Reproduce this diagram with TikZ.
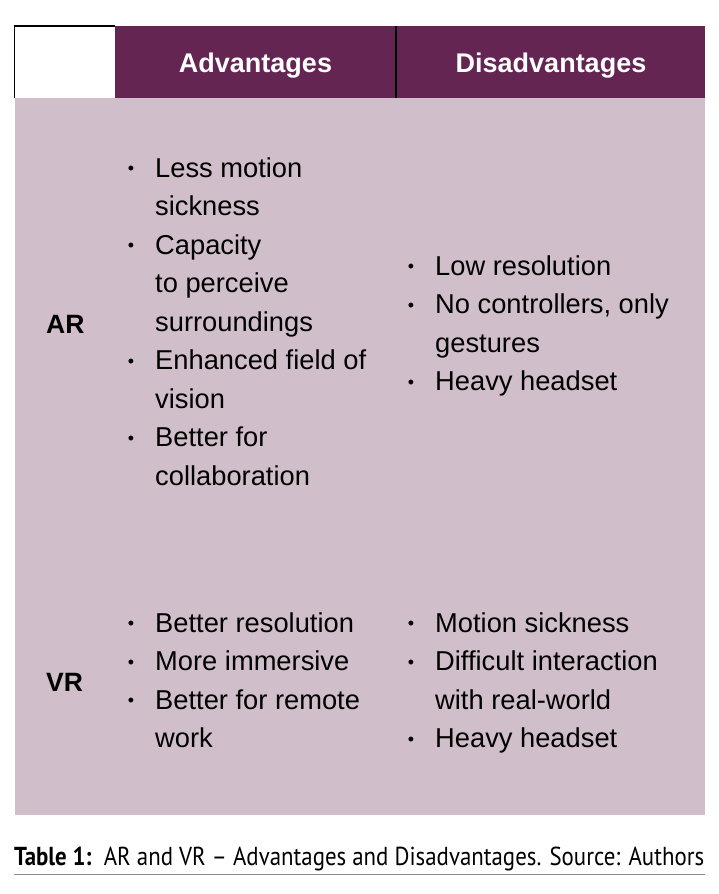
\documentclass[tikz,border=0pt]{standalone}
\usepackage{fontspec}
\setmainfont{Liberation Sans}
\newfontfamily\capfont{PT Sans}
\definecolor{hdrpurple}{HTML}{642552}
\definecolor{bodylilac}{HTML}{D0BFCA}
\definecolor{capline}{HTML}{8A8A8A}
\newcommand{\smallbul}{\raisebox{2.5pt}{\fontsize{18}{20}\selectfont •}}
\begin{document}
\begin{tikzpicture}[x=1pt,y=-1pt,
  celltext/.style={inner sep=0pt, anchor=base west, font=\fontsize{27.3}{38.5}\selectfont},
  bul/.style={inner sep=0pt, anchor=base, font=\fontsize{27.3}{38.5}\selectfont},
  hdrtext/.style={inner sep=0pt, anchor=base, text=white, font=\fontsize{27}{32}\selectfont\bfseries},
  rowlab/.style={inner sep=0pt, anchor=base west, font=\fontsize{26.5}{32}\selectfont\bfseries},
  rule/.style={line width=1.6pt, black}]
\useasboundingbox (0,0) rectangle (718,894);
% fills
\fill[bodylilac] (15,98) rectangle (705,815);
\fill[hdrpurple] (115,26) rectangle (705,98);
% borders
\draw[rule] (14.5,98) -- (14.5,26) -- (115,26);
\draw[rule] (396,26) -- (396,98);
% headers
\node[hdrtext] (hA) at (255.5,72) {Advantages};
\node[hdrtext] (hD) at (551,72) {Disadvantages};
% row labels
\node[rowlab] (AR) at (46,333) {AR};
\node[rowlab] (VR) at (46,691) {VR};
% AR advantages
\node[bul] (b1) at (131,177) {\smallbul};
\node[celltext] (a1) at (155,177) {Less motion};
\node[celltext] (a2) at (155,215.5) {sickness};
\node[bul] (b2) at (131,254) {\smallbul};
\node[celltext] (a3) at (155,254) {Capacity};
\node[celltext] (a4) at (155,292.5) {to perceive};
\node[celltext] (a5) at (155,331) {surroundings};
\node[bul] (b3) at (131,369.5) {\smallbul};
\node[celltext] (a6) at (155,369.5) {Enhanced field of};
\node[celltext] (a7) at (155,408) {vision};
\node[bul] (b4) at (131,446.5) {\smallbul};
\node[celltext] (a8) at (155,446.5) {Better for};
\node[celltext] (a9) at (155,485) {collaboration};
% AR disadvantages
\node[bul] (c1) at (411,275) {\smallbul};
\node[celltext] (d1) at (435,275) {Low resolution};
\node[bul] (c2) at (411,313.5) {\smallbul};
\node[celltext] (d2) at (435,313.5) {No controllers, only};
\node[celltext] (d3) at (435,352) {gestures};
\node[bul] (c3) at (411,390.5) {\smallbul};
\node[celltext] (d4) at (435,390.5) {Heavy headset};
% VR advantages
\node[bul] (e1) at (131,632) {\smallbul};
\node[celltext] (v1) at (155,632) {Better resolution};
\node[bul] (e2) at (131,670.5) {\smallbul};
\node[celltext] (v2) at (155,670.5) {More immersive};
\node[bul] (e3) at (131,709) {\smallbul};
\node[celltext] (v3) at (155,709) {Better for remote};
\node[celltext] (v4) at (155,747.5) {work};
% VR disadvantages
\node[bul] (f1) at (411,632) {\smallbul};
\node[celltext] (w1) at (435,632) {Motion sickness};
\node[bul] (f2) at (411,670.5) {\smallbul};
\node[celltext] (w2) at (435,670.5) {Difficult interaction};
\node[celltext] (w3) at (435,709) {with real-world};
\node[bul] (f3) at (411,747.5) {\smallbul};
\node[celltext] (w4) at (435,747.5) {Heavy headset};
% caption
\node[inner sep=0pt, anchor=base west] (cap) at (14,865)
  {\resizebox{690pt}{18.5pt}{\capfont\fontsize{20}{24}\selectfont\textbf{Table 1:}\ \ AR and VR – Advantages and Disadvantages. Source: Authors}};
\draw[capline, line width=1pt] (14,874) -- (705,874);
\end{tikzpicture}
\end{document}
